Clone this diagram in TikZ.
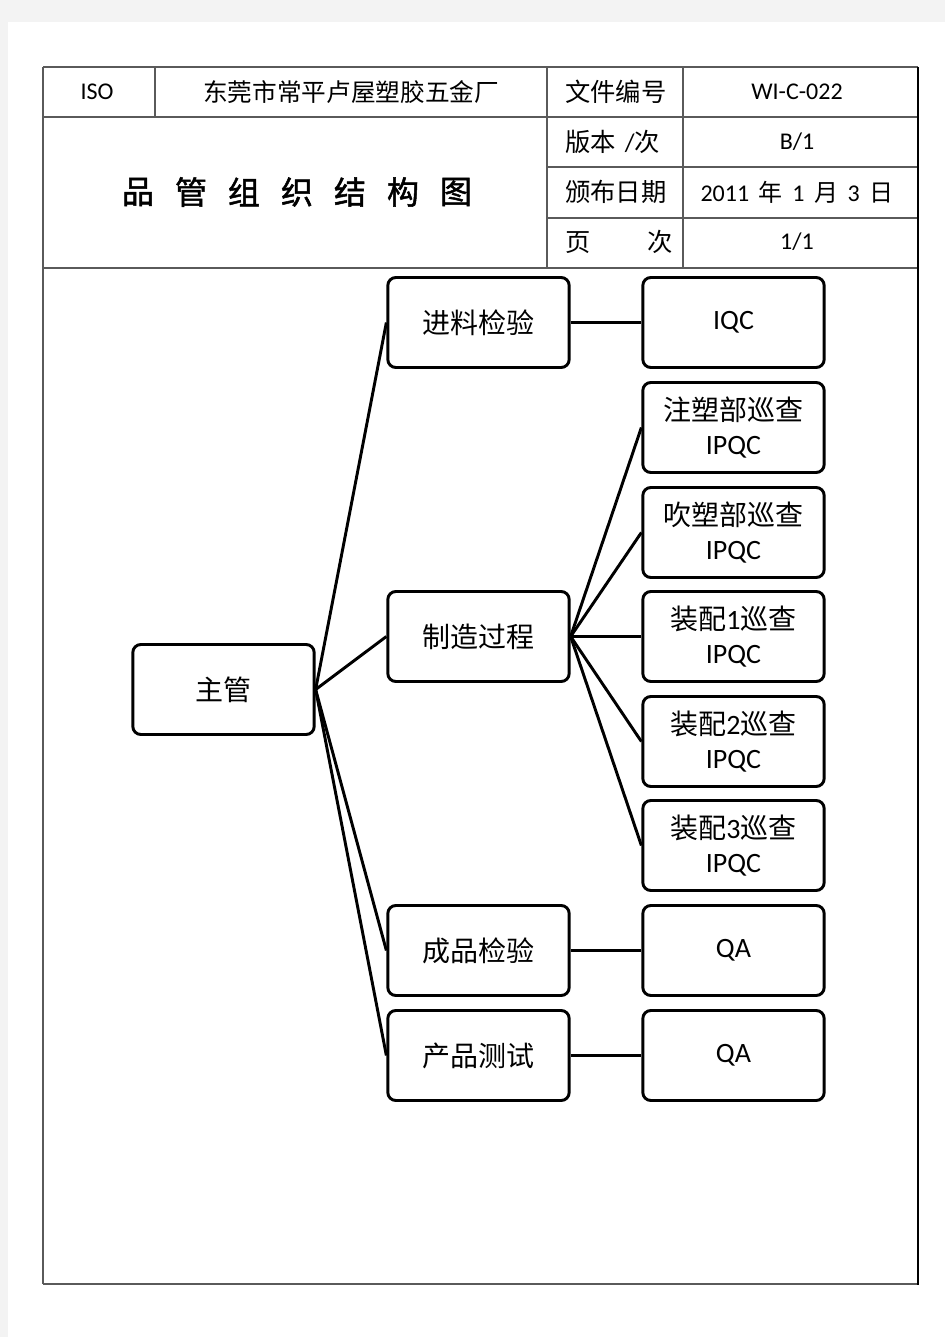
\documentclass[tikz,border=0pt]{standalone}
\usepackage{fontspec}
\setmainfont{Carlito}
\newfontfamily\cjk{Noto Sans CJK SC}
\newfontfamily\cjkbold[FakeBold=1.5]{Noto Sans CJK SC}
\begin{document}
\begin{tikzpicture}[x=0.75pt,y=-0.75pt,
  box/.style={draw=black, line width=2.2pt, rounded corners=6pt, minimum width=136pt, minimum height=67.5pt, inner sep=0pt, align=center, font=\fontsize{21}{25.5}\selectfont},
  conn/.style={draw=black, line width=2.2pt},
  tline/.style={draw=tgray, line width=0.8pt},
  hlab/.style={inner sep=0pt, font=\fontsize{18}{21}\selectfont},
  hcjk/.style={inner sep=0pt, font=\fontsize{19}{21}\selectfont\cjk},
  titlech/.style={inner sep=0pt, font=\fontsize{24}{28}\selectfont\cjkbold}]
\definecolor{tgray}{HTML}{5A5A5A}
\definecolor{pagebg}{HTML}{F3F3F3}
% page
\fill[pagebg] (0,0) rectangle (945,1337);
\fill[white] (8,22) rectangle (945,1337);
\useasboundingbox (0,0) rectangle (945,1337);
% table
\draw[tline] (43,67) -- (918,67);
\draw[tline] (43,117) -- (918,117);
\draw[tline] (547,167) -- (918,167);
\draw[tline] (547,218) -- (918,218);
\draw[tline] (43,268) -- (918,268);
\draw[tline] (43,1284) -- (918,1284);
\draw[tline] (43,67) -- (43,1284);
\draw[tline] (155,67) -- (155,117);
\draw[tline] (547,67) -- (547,268);
\draw[tline] (683,67) -- (683,268);
\draw[black, line width=1.5pt] (918,67) -- (918,1285);
% header text
\node[hlab] (iso) at (97,92) {ISO};
\node[hcjk, font=\fontsize{18.5}{22}\selectfont\cjk] (co) at (351,92) {东莞市常平卢屋塑胶五金厂};
\node[hcjk, anchor=west] (l1) at (565,92) {文件编号};
\node[hcjk, anchor=west] (l2) at (565,142) {版本\hspace{0.35em}{\fontspec{Carlito}/}次};
\node[hcjk, anchor=west] (l3) at (565,192) {颁布日期};
\node[hcjk, anchor=west] (l4) at (565,242) {页\hspace{2.25em}次};
\node[hlab] (v1) at (797,92) {WI-C-022};
\node[hlab] (v2) at (797,142) {B/1};
\node[hlab] (v3) at (797,192) {2011\hspace{0.4em}{\cjk 年}\hspace{0.4em}1\hspace{0.4em}{\cjk 月}\hspace{0.4em}3\hspace{0.4em}{\cjk 日}};
\node[hlab] (v4) at (797,242) {1/1};
% title
\foreach \c [count=\i from 0] in {品,管,组,织,结,构,图}
  \node[titlech] (t\i) at (138+53*\i,192) {\c};
% boxes
\node[box] (zg) at (223.5,689.5) {\cjk 主管};
\node[box] (jl) at (478.5,322.5) {\cjk 进料检验};
\node[box] (zz) at (478.5,636.5) {\cjk 制造过程};
\node[box] (cp) at (478.5,950.5) {\cjk 成品检验};
\node[box] (cs) at (478.5,1055.5) {\cjk 产品测试};
\node[box] (iqc) at (733.5,322.5) {IQC};
\node[box] (zs) at (733.5,427.5) {{\cjk 注塑部巡查}\\IPQC};
\node[box] (cs2) at (733.5,532.5) {{\cjk 吹塑部巡查}\\IPQC};
\node[box] (zp1) at (733.5,636.5) {{\cjk 装配}1{\cjk 巡查}\\IPQC};
\node[box] (zp2) at (733.5,741.5) {{\cjk 装配}2{\cjk 巡查}\\IPQC};
\node[box] (zp3) at (733.5,845.5) {{\cjk 装配}3{\cjk 巡查}\\IPQC};
\node[box] (qa1) at (733.5,950.5) {QA};
\node[box] (qa2) at (733.5,1055.5) {QA};
% connectors
\foreach \t in {jl,zz,cp,cs} \draw[conn] (zg.east) -- (\t.west);
\foreach \t in {zs,cs2,zp1,zp2,zp3} \draw[conn] (zz.east) -- (\t.west);
\draw[conn] (jl.east) -- (iqc.west);
\draw[conn] (cp.east) -- (qa1.west);
\draw[conn] (cs.east) -- (qa2.west);
\end{tikzpicture}
\end{document}
